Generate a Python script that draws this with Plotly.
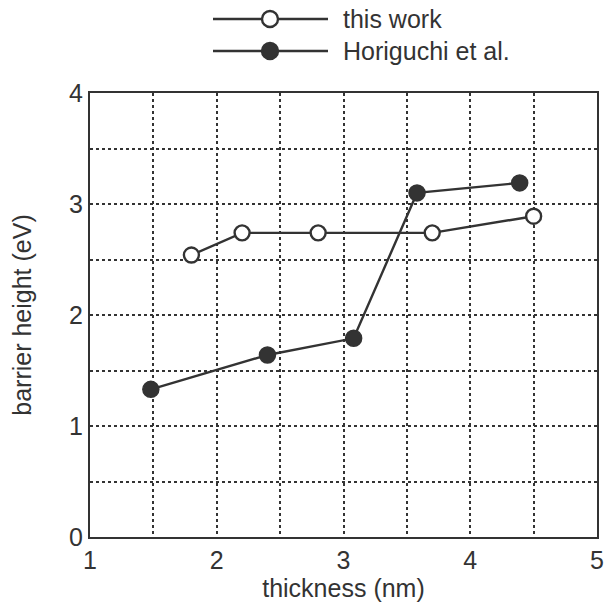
import plotly.graph_objects as go

this_x = [1.8, 2.2, 2.8, 3.7, 4.5]
this_y = [2.54, 2.74, 2.74, 2.74, 2.89]
hori_x = [1.48, 2.4, 3.08, 3.58, 4.39]
hori_y = [1.33, 1.64, 1.79, 3.10, 3.19]
series_names = ["this work", "Horiguchi et al."]
x_ticks = [1, 2, 3, 4, 5]
y_ticks = [0, 1, 2, 3, 4]

ink = "#333333"
font = "Liberation Sans, Arial, Helvetica, sans-serif"
fs = 25

W = H = 609
PL, PR, PT, PB = 90, 597, 93, 537  # plot area in pixels

fig = go.Figure()
fig.add_trace(go.Scatter(x=hori_x, y=hori_y, mode="lines+markers", name=series_names[1],
                         line=dict(color=ink, width=2.4),
                         marker=dict(size=16, color=ink, line=dict(color=ink, width=1.5))))
fig.add_trace(go.Scatter(x=this_x, y=this_y, mode="lines+markers", name=series_names[0],
                         line=dict(color=ink, width=2.4),
                         marker=dict(size=15, color="white", line=dict(color=ink, width=2.4))))

axis_common = dict(showline=True, linecolor=ink, linewidth=2.4, mirror=True, automargin=False,
                   showgrid=True, gridcolor=ink, gridwidth=1.5, griddash="dot",
                   zeroline=False, ticks="", ticklabeloverflow="allow",
                   tickfont=dict(size=fs, color=ink, family=font),
                   minor=dict(showgrid=True, gridcolor=ink, gridwidth=1.5, griddash="dot", dtick=0.5))

fig.update_xaxes(range=[1, 5], tickvals=x_ticks,
                 title=dict(text="thickness (nm)", font=dict(size=fs, color=ink, family=font), standoff=5),
                 **axis_common)
fig.update_yaxes(range=[0, 4], tickvals=y_ticks,
                 title=dict(text="barrier height (eV)", font=dict(size=fs, color=ink, family=font), standoff=30),
                 **axis_common)

pw = PR - PL
ph = PB - PT
def px(xp):
    return (xp - PL) / pw
def py(yp):
    return (PB - yp) / ph

shapes = []
annotations = []
rows = [(19, False, series_names[0]), (51, True, series_names[1])]
for ypx, filled, label in rows:
    shapes.append(dict(type="line", xref="paper", yref="paper", x0=px(213), x1=px(328),
                       y0=py(ypx), y1=py(ypx), line=dict(color=ink, width=2.4)))
    r = 8
    mx = 270
    shapes.append(dict(type="circle", xref="paper", yref="paper",
                       x0=px(mx - r), x1=px(mx + r), y0=py(ypx + r), y1=py(ypx - r),
                       fillcolor=ink if filled else "white", line=dict(color=ink, width=2.4)))
    annotations.append(dict(xref="paper", yref="paper", x=px(341), y=py(ypx),
                            text=label, showarrow=False, xanchor="left", yanchor="middle",
                            font=dict(size=fs, color=ink, family=font)))

fig.update_layout(width=W, height=H,
                  margin=dict(l=PL, r=W - PR, t=PT, b=H - PB),
                  plot_bgcolor="white", paper_bgcolor="white", showlegend=False,
                  shapes=shapes, annotations=annotations, font=dict(family=font, color=ink))

fig.write_html("out.html", config={"displayModeBar": False},
               post_script="document.body.style.margin='0';document.body.style.overflow='hidden';"
                           "document.documentElement.style.overflow='hidden';")
